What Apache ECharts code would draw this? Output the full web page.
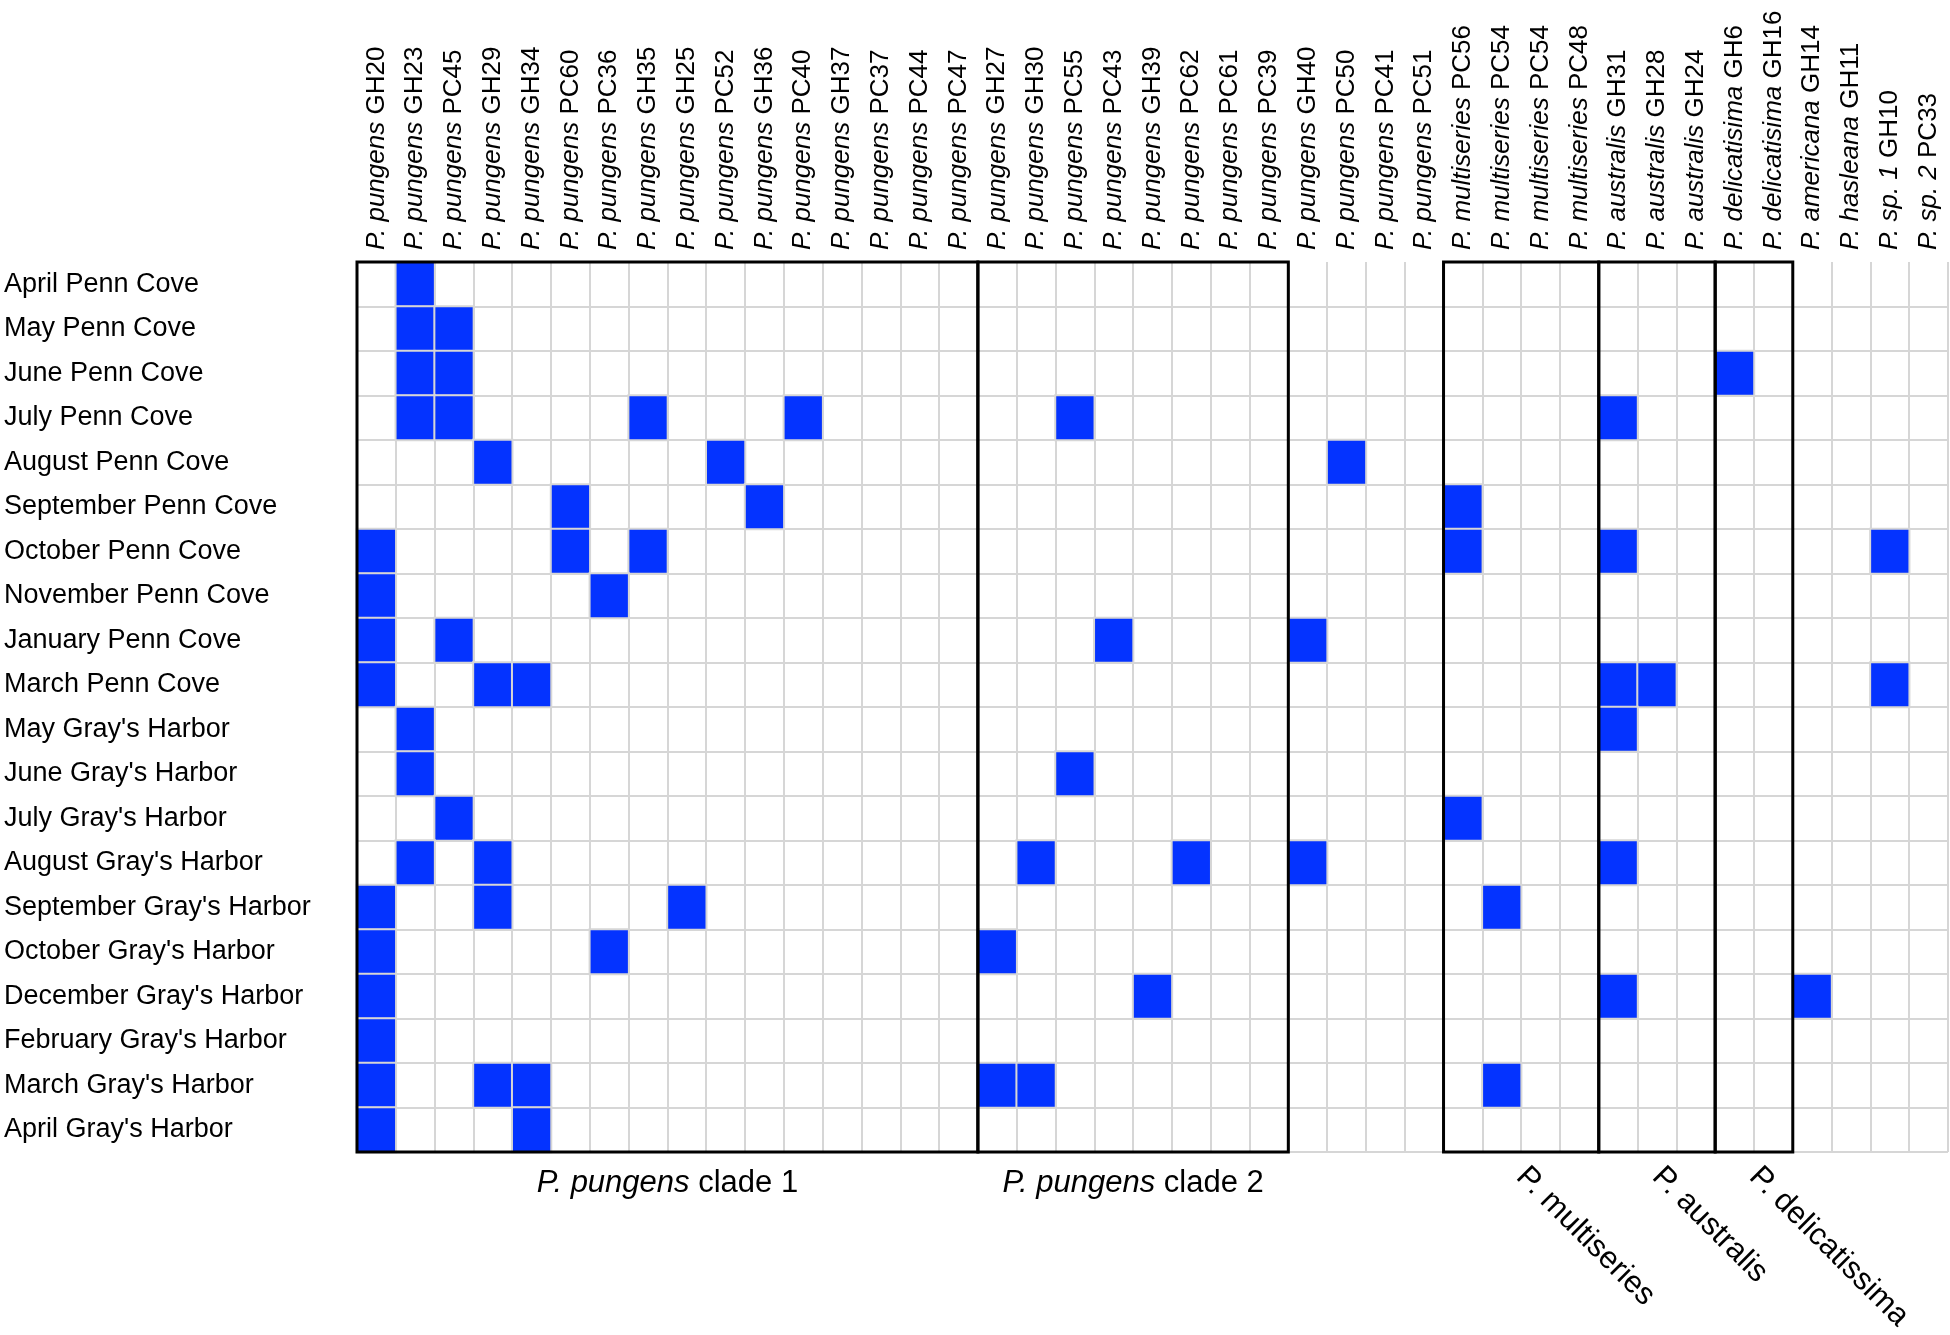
<!DOCTYPE html>
<html>
<head>
<meta charset="utf-8">
<title>Pseudo-nitzschia strains per sample</title>
<script src="https://cdn.jsdelivr.net/npm/echarts@6/dist/echarts.min.js"></script>
<style>
    html, body { margin: 0; padding: 0; background: #fff; }
    #box { width: 1950px; height: 1335px; }
</style>
</head>
<body>
<div id="box"></div>
<script>
// samples (rows, top to bottom)
var rowNames = ['April Penn Cove', 'May Penn Cove', 'June Penn Cove', 'July Penn Cove', 'August Penn Cove',
    'September Penn Cove', 'October Penn Cove', 'November Penn Cove', 'January Penn Cove', 'March Penn Cove',
    "May Gray's Harbor", "June Gray's Harbor", "July Gray's Harbor", "August Gray's Harbor",
    "September Gray's Harbor", "October Gray's Harbor", "December Gray's Harbor", "February Gray's Harbor",
    "March Gray's Harbor", "April Gray's Harbor"];

// strains (columns): italic taxon part + strain code
var colTaxon = ['P. pungens', 'P. pungens', 'P. pungens', 'P. pungens', 'P. pungens', 'P. pungens', 'P. pungens',
    'P. pungens', 'P. pungens', 'P. pungens', 'P. pungens', 'P. pungens', 'P. pungens', 'P. pungens', 'P. pungens',
    'P. pungens', 'P. pungens', 'P. pungens', 'P. pungens', 'P. pungens', 'P. pungens', 'P. pungens', 'P. pungens',
    'P. pungens', 'P. pungens', 'P. pungens', 'P. pungens', 'P. pungens', 'P. multiseries', 'P. multiseries',
    'P. multiseries', 'P. multiseries', 'P. australis', 'P. australis', 'P. australis', 'P. delicatisima',
    'P. delicatisima', 'P. americana', 'P. hasleana', 'P. sp. 1', 'P. sp. 2'];
var colStrain = ['GH20', 'GH23', 'PC45', 'GH29', 'GH34', 'PC60', 'PC36', 'GH35', 'GH25', 'PC52', 'GH36', 'PC40',
    'GH37', 'PC37', 'PC44', 'PC47', 'GH27', 'GH30', 'PC55', 'PC43', 'GH39', 'PC62', 'PC61', 'PC39', 'GH40', 'PC50',
    'PC41', 'PC51', 'PC56', 'PC54', 'PC54', 'PC48', 'GH31', 'GH28', 'GH24', 'GH6', 'GH16', 'GH14', 'GH11', 'GH10',
    'PC33'];

// for each sample: columns where the strain was found
var presentCols = [
    [1],
    [1, 2],
    [1, 2, 35],
    [1, 2, 7, 11, 18, 32],
    [3, 9, 25],
    [5, 10, 28],
    [0, 5, 7, 28, 32, 39],
    [0, 6],
    [0, 2, 19, 24],
    [0, 3, 4, 32, 33, 39],
    [1, 32],
    [1, 18],
    [2, 28],
    [1, 3, 17, 21, 24, 32],
    [0, 3, 8, 29],
    [0, 6, 16],
    [0, 20, 32, 37],
    [0],
    [0, 3, 4, 16, 17, 29],
    [0, 4]
];

// boxed groups of columns
var groupTaxon = ['P. pungens', 'P. pungens', 'P. multiseries', 'P. australis', 'P. delicatissima'];
var groupClade = ['clade 1', 'clade 2', '', '', ''];
var groupStart = [0, 16, 28, 32, 35];
var groupEnd = [15, 23, 31, 34, 36];

var FONT = '"Liberation Sans", Arial, Helvetica, sans-serif';
var chart = echarts.init(document.getElementById('box'));

// heatmap cells
var cells = [];
presentCols.forEach(function (cols, r) {
    cols.forEach(function (c) {
        cells.push([c, r, 1]);
    });
});

// group boxes: [first col, first row, last col, last row]
var boxes = groupStart.map(function (s, i) {
    return [s, 0, groupEnd[i], rowNames.length - 1];
});

function renderBox(params, api) {
    var i = params.dataIndex;
    var p0 = api.coord([api.value(0), api.value(1)]);
    var p1 = api.coord([api.value(2), api.value(3)]);
    var size = api.size([1, 1]);
    var x0 = p0[0] - size[0] / 2, x1 = p1[0] + size[0] / 2;
    var y0 = p0[1] - size[1] / 2, y1 = p1[1] + size[1] / 2;
    var label;
    if (groupClade[i]) {
        // horizontal label under the box
        label = {
            type: 'text', x: (x0 + x1) / 2, y: y1 + 31,
            style: {
                text: '{i|' + groupTaxon[i] + '} ' + groupClade[i],
                align: 'center', verticalAlign: 'middle',
                fontSize: 31, fontFamily: FONT, fill: '#000',
                rich: { i: { fontStyle: 'italic', fontSize: 31, fontFamily: FONT, fill: '#000' } }
            }
        };
    } else {
        // slanted label starting at the middle of the box
        label = {
            type: 'text', x: (x0 + x1) / 2, y: y1 + 20, rotation: -Math.PI / 4,
            style: {
                text: groupTaxon[i], align: 'left', verticalAlign: 'middle',
                fontSize: 31, fontFamily: FONT, fill: '#000'
            }
        };
    }
    return {
        type: 'group',
        children: [
            { type: 'rect', shape: { x: x0, y: y0, width: x1 - x0, height: y1 - y0 },
              style: { fill: 'none', stroke: '#000', lineWidth: 3 } },
            label
        ]
    };
}

var option = {
    animation: false,
    backgroundColor: '#fff',
    grid: { left: 357, top: 262, right: 2, bottom: 183 },
    xAxis: {
        type: 'category',
        position: 'top',
        data: colStrain.map(function (s, i) { return String(i); }),
        axisLine: { show: false },
        axisTick: { show: false },
        splitLine: { show: true, lineStyle: { color: '#d6d6d6', width: 2 } },
        axisLabel: {
            interval: 0, rotate: -90, margin: 12,
            fontSize: 26, fontFamily: FONT, color: '#000',
            formatter: function (v, idx) {
                return '{i|' + colTaxon[idx] + '} {n|' + colStrain[idx] + '}';
            },
            rich: {
                i: { fontStyle: 'italic', fontSize: 26, fontFamily: FONT, color: '#000' },
                n: { fontSize: 26, fontFamily: FONT, color: '#000' }
            }
        }
    },
    yAxis: {
        type: 'category',
        inverse: true,
        data: rowNames,
        axisLine: { show: false },
        axisTick: { show: false },
        // no gray line along the top edge (only the boxes close it)
        splitLine: {
            show: true,
            interval: function (index) { return index > 0; },
            lineStyle: { color: '#d6d6d6', width: 2 }
        },
        axisLabel: { interval: 0, align: 'left', margin: 353, fontSize: 27, fontFamily: FONT, color: '#000' }
    },
    visualMap: {
        show: false, type: 'piecewise', dimension: 2,
        pieces: [{ value: 1, color: '#0433ff' }]
    },
    series: [
        {
            type: 'heatmap',
            data: cells,
            itemStyle: { borderColor: '#d6d6d6', borderWidth: 2 },
            emphasis: { disabled: true }
        },
        {
            type: 'custom',
            data: boxes,
            encode: { x: [0, 2], y: [1, 3] },
            renderItem: renderBox,
            clip: false,
            silent: true,
            z: 10
        }
    ]
};
chart.setOption(option);
</script>
</body>
</html>
